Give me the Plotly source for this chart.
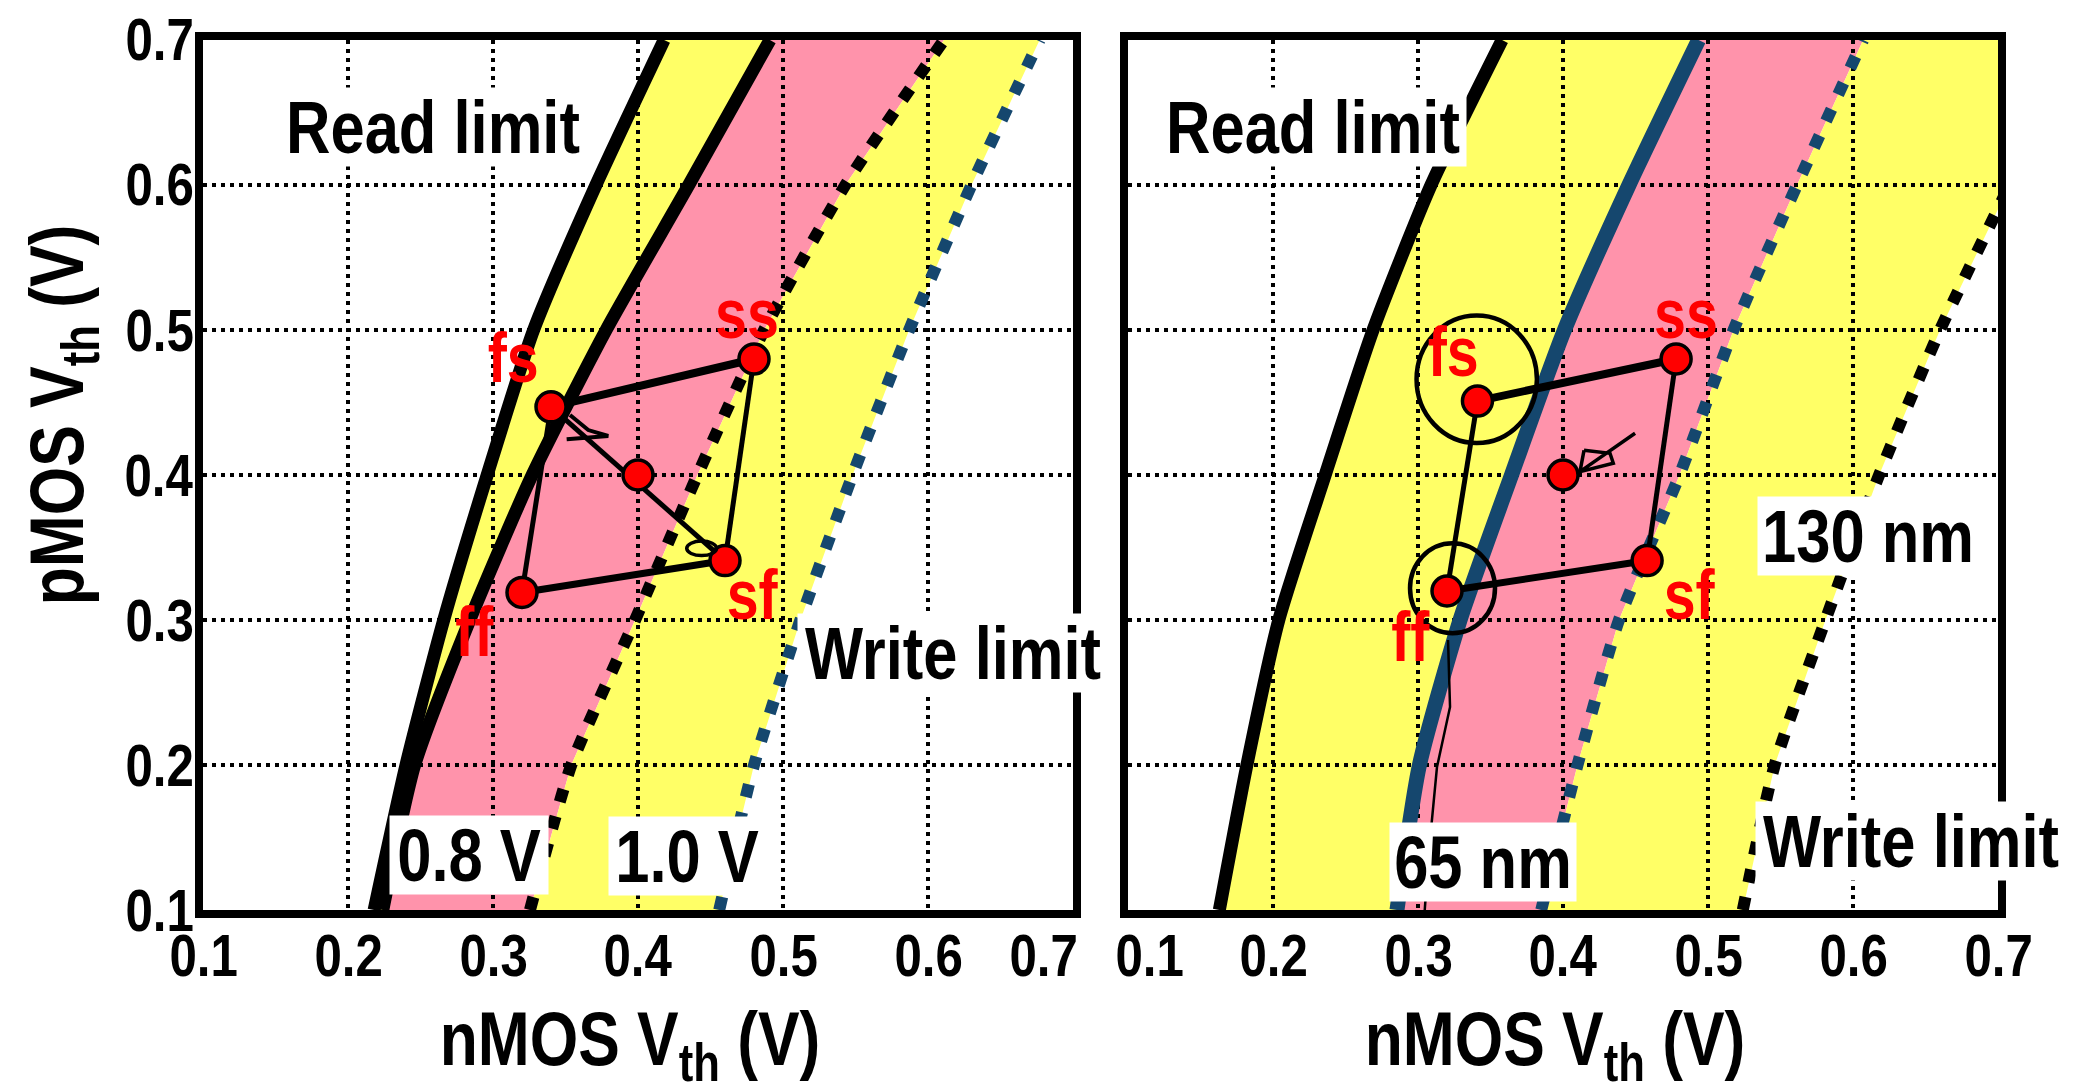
import plotly.graph_objects as go

# ---------------- data ----------------
pmos_vth = [0.1, 0.2, 0.3, 0.4, 0.5, 0.6, 0.7]

# left panel: supply voltage 0.8 V / 1.0 V (nMOS Vth at each pMOS Vth)
read_08V = [0.218, 0.240, 0.266, 0.296, 0.328, 0.371, 0.418]
read_10V = [0.224, 0.246, 0.284, 0.327, 0.378, 0.435, 0.491]
write_08V = [0.3255, 0.354, 0.398, 0.441, 0.487, 0.543, 0.611]
write_10V = [0.456, 0.480, 0.512, 0.548, 0.587, 0.630, 0.677]

# right panel: 130 nm / 65 nm
read_130nm = [0.163, 0.182, 0.204, 0.236, 0.269, 0.309, 0.358]
read_65nm = [0.2855, 0.301, 0.329, 0.3645, 0.401, 0.4455, 0.4935]
write_65nm = [0.385, 0.410, 0.4386, 0.4804, 0.5176, 0.5614, 0.607]
write_130nm = [0.524, 0.546, 0.581, 0.618, 0.660, 0.708, 0.758]

# process corners
corner_names = ["fs", "ss", "sf", "ff"]
corner_nmos_L = [0.34, 0.48, 0.46, 0.32]
corner_pmos_L = [0.447, 0.48, 0.341, 0.319]
corner_nmos_R = [0.341, 0.478, 0.458, 0.32]
corner_pmos_R = [0.451, 0.48, 0.341, 0.32]
typical_nmos = [0.40]
typical_pmos = [0.40]
label_nmos_L = [0.314, 0.4755, 0.479, 0.287]
label_pmos_L = [0.481, 0.511, 0.317, 0.292]
label_nmos_R = [0.324, 0.4848, 0.4872, 0.2945]
label_pmos_R = [0.485, 0.511, 0.317, 0.288]

tick_vals = [0.1, 0.2, 0.3, 0.4, 0.5, 0.6, 0.7]
tick_text = ["0.1", "0.2", "0.3", "0.4", "0.5", "0.6", "0.7"]

# hand-drawn marks on the slide
scrib_L_nmos = [0.3531, 0.3657, 0.3795, 0.3508]
scrib_L_pmos = [0.4414, 0.4310, 0.4269, 0.4246]
loop_L = [0.4336, 0.4542, 0.3444, 0.3544]          # x0, x1, y0, y1
circle_fs_R = [0.299, 0.382, 0.422, 0.510]
circle_ff_R = [0.2945, 0.3531, 0.2909, 0.3529]
trail_R_nmos = [0.3207, 0.3221, 0.3131, 0.3083, 0.3048, 0.3034]
trail_R_pmos = [0.2862, 0.240, 0.1986, 0.1483, 0.1021, 0.0814]
arrow_R_nmos = [0.4497, 0.4117, 0.4145, 0.4117, 0.4347, 0.4324, 0.4145]
arrow_R_pmos = [0.4288, 0.4023, 0.4170, 0.4023, 0.4081, 0.4150, 0.4170]

# ---------------- style ----------------
W, H = 2075, 1088
FONT = "Liberation Sans, Arial, sans-serif"
NARROW = 0.82          # glyph compression to mimic a narrow bold face
YELLOW = "#FFFF66"
PINK = "#FF93AB"
BLUE = "#15476E"
RED = "#FF0000"

xdomL = [203 / W, 1073 / W]
xdomR = [1128 / W, 1998 / W]
ydom = [1 - 910 / H, 1 - 40 / H]

fig = go.Figure()


def band(xa, xb, ys, color, xref, yref):
    pts = [f"{x},{y}" for x, y in zip(xa, ys)] + [f"{x},{y}" for x, y in zip(xb[::-1], ys[::-1])]
    path = "M " + " L ".join(pts) + " Z"
    fig.add_shape(type="path", path=path, fillcolor=color, line=dict(width=0),
                  xref=xref, yref=yref, layer="below")


band(read_08V, read_10V, pmos_vth, YELLOW, "x", "y")
band(read_10V, write_08V, pmos_vth, PINK, "x", "y")
band(write_08V, write_10V, pmos_vth, YELLOW, "x", "y")
band(read_130nm, read_65nm, pmos_vth, YELLOW, "x2", "y2")
band(read_65nm, write_65nm, pmos_vth, PINK, "x2", "y2")
band(write_65nm, write_130nm, pmos_vth, YELLOW, "x2", "y2")


def curve(xs, color, width, dash, xa, ya):
    fig.add_trace(go.Scatter(x=xs, y=pmos_vth, mode="lines", xaxis=xa, yaxis=ya,
                             line=dict(color=color, width=width, dash=dash, shape="spline", smoothing=0.6),
                             showlegend=False, hoverinfo="skip"))


curve(write_10V, BLUE, 12, "13px,16px", "x", "y")
curve(write_08V, "black", 12, "13px,15px", "x", "y")
curve(read_08V, "black", 13, "solid", "x", "y")
curve(read_10V, "black", 13, "solid", "x", "y")

curve(write_130nm, "black", 12, "13px,15px", "x2", "y2")
curve(write_65nm, BLUE, 12, "13px,16px", "x2", "y2")
curve(read_130nm, "black", 13, "solid", "x2", "y2")
curve(read_65nm, BLUE, 15, "solid", "x2", "y2")


def seg(xs, ys, width, xa, ya, clip=True):
    fig.add_trace(go.Scatter(x=xs, y=ys, mode="lines", xaxis=xa, yaxis=ya,
                             line=dict(color="black", width=width), cliponaxis=clip,
                             showlegend=False, hoverinfo="skip"))


# corner polygons: fs-ss, ss-sf, sf-ff, ff-fs
seg_widths = [8, 5, 7, 5]
for cx, cy, xa, ya in [(corner_nmos_L, corner_pmos_L, "x", "y"), (corner_nmos_R, corner_pmos_R, "x2", "y2")]:
    for i, w in enumerate(seg_widths):
        j = (i + 1) % 4
        seg([cx[i], cx[j]], [cy[i], cy[j]], w, xa, ya)
# diagonal fs -> sf in left panel
seg([corner_nmos_L[0], corner_nmos_L[2]], [corner_pmos_L[0], corner_pmos_L[2]], 5, "x", "y")

# scribbles
seg(scrib_L_nmos, scrib_L_pmos, 4, "x", "y")
seg(trail_R_nmos, trail_R_pmos, 2.5, "x2", "y2", clip=False)
seg(arrow_R_nmos, arrow_R_pmos, 3.5, "x2", "y2")
for (x0, x1, y0, y1), xr, yr, w in [(loop_L, "x", "y", 3.5), (circle_fs_R, "x2", "y2", 4.5),
                                    (circle_ff_R, "x2", "y2", 4.5)]:
    fig.add_shape(type="circle", x0=x0, x1=x1, y0=y0, y1=y1, xref=xr, yref=yr,
                  line=dict(color="black", width=w), layer="above")

# markers
for cx, cy, xa, ya in [(corner_nmos_L, corner_pmos_L, "x", "y"), (corner_nmos_R, corner_pmos_R, "x2", "y2")]:
    fig.add_trace(go.Scatter(x=cx + typical_nmos, y=cy + typical_pmos, mode="markers", xaxis=xa, yaxis=ya,
                             marker=dict(color=RED, size=30, line=dict(color="black", width=3.5)),
                             showlegend=False, hoverinfo="skip"))


def bold(size, color="black"):
    return dict(family=FONT, size=size, color=color, weight="bold")


ann = []
# corner labels
for lx, ly, xr, yr in [(label_nmos_L, label_pmos_L, "x", "y"), (label_nmos_R, label_pmos_R, "x2", "y2")]:
    for name, x, y in zip(corner_names, lx, ly):
        ann.append(dict(text=name, x=x, y=y, xref=xr, yref=yr, showarrow=False,
                        xanchor="center", yanchor="middle", font=bold(70, RED)))

# boxed text labels (text, x, y, axes, box width px)
boxed = [("Read limit", 0.2586, 0.640, "x", "y", 298),
         ("0.8 V", 0.2834, 0.1379, "x", "y", 150),
         ("1.0 V", 0.4341, 0.1372, "x", "y", 148),
         ("Write limit", 0.6172, 0.2772, "x", "y", 302),
         ("Read limit", 0.2276, 0.640, "x2", "y2", 298),
         ("130 nm", 0.6103, 0.3579, "x2", "y2", 212),
         ("65 nm", 0.3445, 0.1328, "x2", "y2", 178),
         ("Write limit", 0.640, 0.1476, "x2", "y2", 302)]
for t, x, y, xr, yr, bw in boxed:
    ann.append(dict(text=t, x=x, y=y, xref=xr, yref=yr, showarrow=False, bgcolor="white",
                    borderpad=4, width=bw, height=70, valign="middle", align="center",
                    xanchor="center", yanchor="middle", font=bold(75)))

# tick labels
tick_y = 1 - 955 / H
for i, (v, t) in enumerate(zip(tick_vals, tick_text)):
    last = i == len(tick_vals) - 1
    ann.append(dict(text=t, x=v, y=tick_y, xref="x", yref="paper", showarrow=False,
                    xanchor="right" if last else "center", yanchor="middle",
                    xshift=14 if last else 0, font=bold(60)))
    first = i == 0
    ann.append(dict(text=t, x=v, y=tick_y, xref="x2", yref="paper", showarrow=False,
                    xanchor="left" if first else "center", yanchor="middle",
                    xshift=-22 if first else 0, font=bold(60)))
    ann.append(dict(text=t, x=203 / W, y=v, xref="paper", yref="y", showarrow=False,
                    xanchor="right", yanchor="middle", font=bold(60)))

# axis titles
for cx in (630, 1555):
    ann.append(dict(text="nMOS V<sub>th</sub> (V)", x=cx / W, y=1 - 1044 / H, xref="paper", yref="paper",
                    showarrow=False, xanchor="center", yanchor="middle", font=bold(76)))
ann.append(dict(text="pMOS V<sub>th</sub> (V)", x=62 / W, y=1 - 415 / H, xref="paper", yref="paper",
                showarrow=False, textangle=-90, xanchor="center", yanchor="middle", font=bold(76)))

axis_common = dict(range=[0.1, 0.7], tickvals=tick_vals, showticklabels=False, ticks="",
                   showgrid=True, gridcolor="black", gridwidth=4, griddash="4px,5px",
                   showline=True, linecolor="black", linewidth=8, mirror=True, zeroline=False)

fig.update_layout(
    width=W, height=H, margin=dict(l=0, r=0, t=0, b=0),
    paper_bgcolor="white", plot_bgcolor="white", showlegend=False,
    xaxis=dict(domain=xdomL, anchor="y", **axis_common),
    yaxis=dict(domain=ydom, anchor="x", **axis_common),
    xaxis2=dict(domain=xdomR, anchor="y2", **axis_common),
    yaxis2=dict(domain=ydom, anchor="x2", **axis_common),
    annotations=ann,
)

# narrow the bold glyphs (the reference uses a condensed bold face)
post = """
document.body.style.margin = '0px';
document.querySelectorAll('text.annotation-text').forEach(function (t) {
  var L = t.getComputedTextLength();
  if (L > 0) {
    t.setAttribute('textLength', (L * %s).toFixed(1));
    t.setAttribute('lengthAdjust', 'spacingAndGlyphs');
  }
});
""" % NARROW

fig.write_html("out.html", config={"displayModeBar": False}, post_script=post)
